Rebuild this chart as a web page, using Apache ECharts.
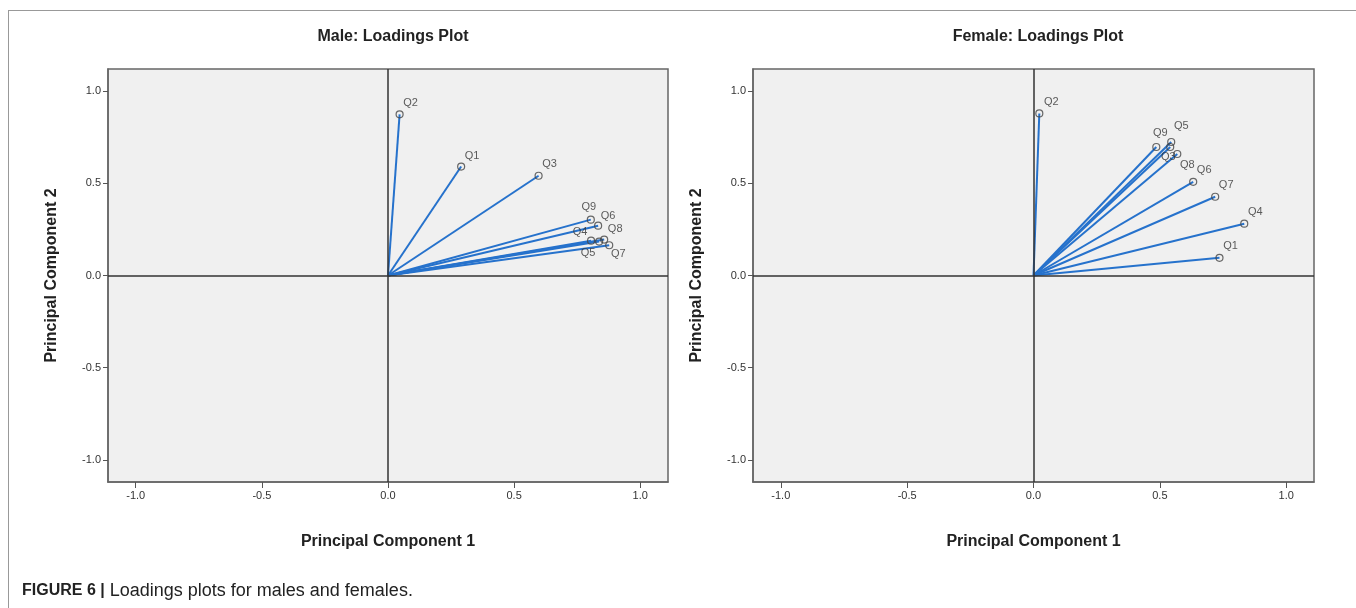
<!DOCTYPE html>
<html>
<head>
<meta charset="utf-8">
<script src="https://cdn.jsdelivr.net/npm/echarts@6/dist/echarts.min.js"></script>
<style>
  html, body { margin: 0; padding: 0; background: #fff; }
  #main { width: 1356px; height: 608px; }
</style>
</head>
<body>
<div id="main"></div>
<script>
// loadings
const items = ["Q1", "Q2", "Q3", "Q4", "Q5", "Q6", "Q7", "Q8", "Q9"];
const maleX = [0.290, 0.046, 0.597, 0.805, 0.837, 0.833, 0.877, 0.857, 0.804];
const maleY = [0.591, 0.874, 0.541, 0.189, 0.184, 0.270, 0.164, 0.195, 0.303];
const femaleX = [0.736, 0.023, 0.541, 0.834, 0.545, 0.632, 0.719, 0.569, 0.486];
const femaleY = [0.096, 0.879, 0.697, 0.281, 0.724, 0.508, 0.427, 0.659, 0.697];
const tickValues = [-1, -0.5, 0, 0.5, 1];

// where each point label sits relative to its marker (px)
const labelOffsets = {
  male: {
    Q1: [11, -11], Q2: [11, -11], Q3: [11, -12], Q4: [-11, -9], Q5: [-11, 11],
    Q6: [10, -10], Q7: [9, 9], Q8: [11, -11], Q9: [-2, -13]
  },
  female: {
    Q1: [11, -12], Q2: [12, -11], Q3: [-2, 10], Q4: [11, -12], Q5: [10, -16],
    Q6: [11, -12], Q7: [11, -12], Q8: [10, 11], Q9: [4, -14]
  }
};

const FONT = 'Arial, "Liberation Sans", Helvetica, sans-serif';
const BLUE = "#2672cc";

var chartDom = document.getElementById("main");
var myChart = echarts.init(chartDom);

function makeXAxis(i) {
  return {
    gridIndex: i,
    type: "value",
    min: -1.11,
    max: 1.11,
    name: "Principal Component 1",
    nameLocation: "middle",
    nameGap: 52,
    nameTextStyle: { fontSize: 16, fontWeight: "bold", color: "#222", fontFamily: FONT },
    axisLine: { show: true, onZero: false, lineStyle: { color: "#666", width: 1.5 } },
    axisTick: { show: true, length: 6, customValues: tickValues, lineStyle: { color: "#555" } },
    axisLabel: {
      customValues: tickValues,
      formatter: (v) => v.toFixed(1),
      fontSize: 11,
      color: "#333",
      fontFamily: FONT,
      margin: 8
    },
    splitLine: { show: false }
  };
}

function makeYAxis(i) {
  return {
    gridIndex: i,
    type: "value",
    min: -1.12,
    max: 1.12,
    name: "Principal Component 2",
    nameLocation: "middle",
    nameGap: 48,
    nameTextStyle: { fontSize: 16, fontWeight: "bold", color: "#222", fontFamily: FONT },
    axisLine: { show: true, onZero: false, lineStyle: { color: "#666", width: 1.5 } },
    axisTick: { show: true, length: 5, customValues: tickValues, lineStyle: { color: "#555" } },
    axisLabel: {
      customValues: tickValues,
      formatter: (v) => v.toFixed(1),
      fontSize: 11,
      color: "#333",
      fontFamily: FONT,
      margin: 7
    },
    splitLine: { show: false }
  };
}

function makeSeries(i, xs, ys, key) {
  return [
    {
      type: "lines",
      coordinateSystem: "cartesian2d",
      xAxisIndex: i,
      yAxisIndex: i,
      silent: true,
      z: 3,
      lineStyle: { color: BLUE, width: 2, opacity: 1 },
      data: items.map((name, k) => ({ coords: [[0, 0], [xs[k], ys[k]]] })),
      markLine: {
        silent: true,
        symbol: "none",
        label: { show: false },
        lineStyle: { color: "#333", width: 1.5, type: "solid" },
        data: [{ xAxis: 0 }, { yAxis: 0 }]
      }
    },
    {
      type: "scatter",
      xAxisIndex: i,
      yAxisIndex: i,
      silent: true,
      z: 4,
      symbol: "circle",
      symbolSize: 7,
      itemStyle: { color: "rgba(0,0,0,0)", borderColor: "#444", borderWidth: 1.2 },
      label: {
        show: true,
        position: "inside",
        formatter: "{b}",
        fontSize: 11,
        color: "#333",
        fontFamily: FONT,
        textBorderWidth: 0
      },
      data: items.map((name, k) => ({
        name: name,
        value: [xs[k], ys[k]],
        label: { offset: labelOffsets[key][name] }
      }))
    }
  ];
}

var option = {
  animation: false,
  backgroundColor: "#fff",
  title: [
    {
      text: "Male: Loadings Plot",
      left: 388,
      top: 24,
      textAlign: "center",
      textStyle: { fontSize: 16, fontWeight: "bold", color: "#222", fontFamily: FONT }
    },
    {
      text: "Female: Loadings Plot",
      left: 1033,
      top: 24,
      textAlign: "center",
      textStyle: { fontSize: 16, fontWeight: "bold", color: "#222", fontFamily: FONT }
    }
  ],
  grid: [
    { left: 108, top: 69, width: 560, height: 413, show: true, backgroundColor: "#f0f0f0", borderColor: "#666", borderWidth: 1.5 },
    { left: 753, top: 69, width: 561, height: 413, show: true, backgroundColor: "#f0f0f0", borderColor: "#666", borderWidth: 1.5 }
  ],
  xAxis: [makeXAxis(0), makeXAxis(1)],
  yAxis: [makeYAxis(0), makeYAxis(1)],
  series: [].concat(
    makeSeries(0, maleX, maleY, "male"),
    makeSeries(1, femaleX, femaleY, "female")
  ),
  graphic: [
    { type: "line", silent: true, shape: { x1: 8, y1: 10.5, x2: 1356, y2: 10.5 }, style: { stroke: "#999", lineWidth: 1 } },
    { type: "line", silent: true, shape: { x1: 8.5, y1: 10, x2: 8.5, y2: 608 }, style: { stroke: "#999", lineWidth: 1 } },
    {
      type: "text",
      silent: true,
      x: 22,
      y: 591,
      style: {
        text: "{b|FIGURE 6 |} Loadings plots for males and females.",
        fontSize: 18,
        fontFamily: FONT,
        fill: "#222",
        verticalAlign: "middle",
        rich: { b: { fontWeight: "bold", fontSize: 16, fontFamily: FONT, fill: "#222" } }
      }
    }
  ]
};

option && myChart.setOption(option);
</script>
</body>
</html>
